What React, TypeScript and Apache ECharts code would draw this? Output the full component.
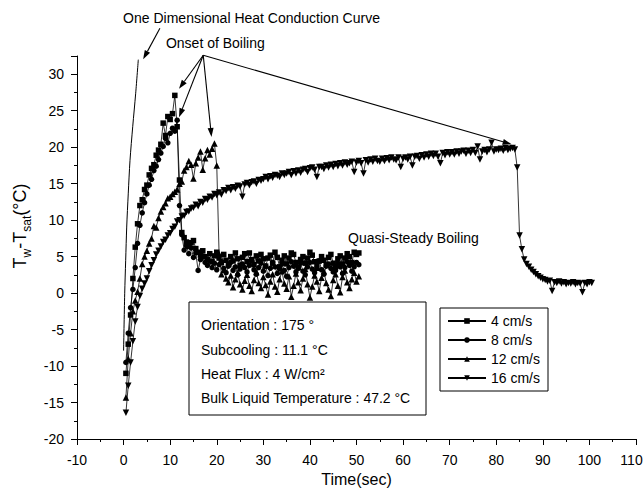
import React, { useEffect, useRef } from 'react';
import * as echarts from 'echarts';

const FONT = "'Liberation Sans', Arial, Helvetica, sans-serif";

// Sampling of the logged temperatures (s)
const T_START = 0.5;
const DT = 0.5;

const SERIES_NAMES = ['4 cm/s', '8 cm/s', '12 cm/s', '16 cm/s'];

// Tw - Tsat (°C), one value per sample
const v4 = [
  -11.0, -7.0, -3.0, 2.0, 6.3, 9.5, 12.0, 12.8, 14.2, 14.8, 16.2, 17.1, 17.6, 18.9, 19.6, 20.4, 23.3, 21.6, 24.2, 23.8, 24.6, 27.1, 22.8, 15.5,
  8.3, 7.6, 7.0, 6.4, 6.9, 7.2, 6.1, 5.6, 5.2, 5.8,
  5.0, 4.6, 5.4, 4.3, 5.1, 5.6, 4.8, 4.2, 5.3, 4.5,
  3.9, 5.0, 4.4, 5.5, 4.7, 3.8, 4.9, 5.4, 4.3, 5.5,
  4.6, 3.9, 5.1, 4.4, 5.3, 4.7, 3.7, 4.8, 5.2, 4.1,
  5.6, 4.9, 3.6, 4.5, 5.1, 4.0, 4.8, 5.5, 5.3, 4.2,
  3.5, 4.6, 5.0, 4.1, 4.8, 5.6, 5.2, 4.3, 3.4, 4.4,
  5.0, 4.5, 3.8, 4.9, 5.3, 4.1, 3.6, 4.7, 5.1, 4.0,
  4.8, 5.4, 5.0, 4.2, 5.6, 5.3, 5.5,
];

const v8 = [
  -9.5, -5.5, -2.0, 0.5, 3.5, 6.8, 9.3, 11.0, 12.4, 13.6, 14.8, 15.6, 16.8, 17.4, 18.3, 19.2, 20.1, 21.2, 20.6, 21.9, 22.6, 22.2, 23.7, 12.0, 8.0,
  5.9, 6.5, 5.4, 6.2, 4.9, 5.5, 3.1, 4.6, 5.0, 4.2,
  3.8, 4.4, 3.5, 4.1, 3.2, 3.9, 4.3, 3.4, 2.8, 3.7,
  4.2, 3.1, 3.6, 2.5, 3.3, 4.0, 3.5, 2.9, 3.8, 4.4,
  3.2, 2.6, 3.5, 4.1, 3.0, 3.7, 2.4, 3.4, 4.2, 3.6,
  2.7, 3.3, 4.0, 3.1, 2.3, 3.5, 4.3, 3.7, 2.9, 3.4,
  4.1, 3.0, 2.5, 3.6, 4.2, 3.3, 2.8, 3.9, 4.4, 3.2,
  2.6, 3.7, 4.0, 3.4, 2.9, 3.1, 4.1, 3.6, 2.7, 3.5,
  4.3, 3.8, 3.0, 3.6, 4.2, 3.9,
];

const v12 = [
  -14.3, -9.0, -5.5, -2.5, -1.0, 0.2, 2.0, 4.0, 5.0, 5.8,
  6.8, 7.5, 9.2, 9.0, 10.3, 11.2, 11.8, 12.3, 13.0, 13.2,
  13.6, 13.9, 14.2, 15.0, 15.3, 16.8, 17.3, 18.1, 17.6, 15.7,
  17.8, 18.6, 19.4, 16.9, 18.5, 19.6, 19.0, 19.8, 20.5, 17.5,
  5.4,
  2.6, 3.2, 2.0, 1.5, 2.4, 0.8, 1.9, 2.8, 1.2, 0.5,
  1.7, 2.5, 1.0, 0.3, 1.8, 2.9, 1.4, 0.7, 2.2, 1.1,
  -0.2, 1.6, 2.6, 0.9, 0.2, 1.9, 3.0, 1.3, 0.6, 2.3,
  -0.5, 1.0, 2.7, 1.5, 0.4, 2.0, 3.3, 1.2, -0.6, 0.9,
  2.4, 1.6, 0.3, 2.1, 3.0, 1.4, 0.5, -0.4, 1.8, 2.6,
  1.0, 0.1, 2.2, 3.1, 1.5, 0.7, 1.9, 2.8, 1.6, 2.3,
];

const v16 = [
  -16.4, -12.7, -9.5, -6.6, -3.9, -1.9, -0.4, 0.6, 1.3, 2.0,
  3.0, 3.8, 4.5, 5.3, 5.8, 6.4, 7.0, 7.3, 7.9, 8.2,
  8.8, 9.1, 9.8, 10.0, 10.5, 10.6, 11.1, 11.2, 11.6, 11.7,
  12.1, 11.9, 12.5, 12.4, 12.9, 12.8, 13.2, 13.1, 13.6, 13.4,
  13.8, 13.5, 14.1, 14.0, 14.4, 14.1, 14.5, 14.3, 14.7, 14.6, 13.2, 14.9, 15.1, 14.8, 15.2, 15.3, 15.0, 15.5, 15.4, 15.6,
  15.9, 15.6, 16.0, 15.8, 16.2, 16.1, 15.9, 16.4, 16.2, 16.4, 16.6, 16.2, 16.7, 16.4, 16.8, 16.5, 16.9, 17.0, 16.6, 17.1,
  17.2, 16.9, 15.9, 17.3, 17.3, 17.0, 17.5, 17.2, 17.6, 17.3, 17.7, 17.4, 17.8, 17.5, 17.9, 17.6, 17.8, 18.0, 16.6, 17.9,
  18.1, 17.8, 16.4, 18.2, 17.9, 18.3, 18.0, 18.4, 18.1, 18.0, 18.4, 18.1, 18.5, 18.2, 18.6, 18.3, 18.2, 18.6, 17.3, 18.4,
  18.6, 18.3, 18.7, 17.5, 18.7, 18.8, 18.4, 18.9, 18.6, 19.0, 18.7, 19.1, 18.8, 19.1, 18.7, 17.8, 19.2, 18.9, 19.3, 19.0,
  19.3, 19.0, 19.4, 19.1, 19.4, 19.5, 19.1, 19.5, 19.2, 19.6, 19.2, 20.1, 18.3, 19.4, 19.6, 19.3, 19.7, 20.6, 19.4, 19.7,
  19.6, 19.8, 19.5, 19.9, 19.6, 19.8, 19.9, 19.7,
  17.2, 7.9, 6.0, 4.6, 4.0, 3.6, 3.2, 2.9, 2.6, 2.3, 2.1, 1.9,
  1.8, 1.6, 1.7, 0.3, 1.5, 1.4, 1.6, 1.3, 1.5, 1.2, 1.4, 1.3, 1.5, 1.2, 1.4, 1.3, 0.1, 1.4, 1.2, 1.5, 1.4,
];

// One dimensional heat conduction curve [time, Tw-Tsat]
const conductionCurve = [
  [0.0, -7.9], [0.24, -0.1], [0.45, 4.5], [0.67, 9.05], [1.0, 13.6],
  [1.38, 18.2], [1.96, 22.8], [2.6, 27.4], [3.16, 32.0],
];

// Annotations, in data coordinates [time, Tw-Tsat]
const conductionLabel = { text: 'One Dimensional Heat Conduction Curve', at: [-0.1, 37.7] };
const conductionArrow = { from: [7.8, 36.3], to: [4.2, 32.05] };
const onsetLabel = { text: 'Onset of Boiling', at: [19.7, 34.3] };
const onsetOrigin = [17.1, 32.6];
const onsetTargets = [[11.9, 28.0], [11.9, 24.1], [18.87, 21.4], [83.3, 20.4]];
const quasiLabel = { text: 'Quasi-Steady Boiling', at: [48.2, 7.6] };

const conditionLines = [
  'Orientation : 175 °',
  'Subcooling : 11.1 °C',
  'Heat Flux : 4 W/cm²',
  'Bulk Liquid Temperature : 47.2 °C',
];

const toPairs = (vals: number[]) => vals.map((v, i) => [T_START + i * DT, v]);

const markerCfg = [
  { symbol: 'rect', size: 5.5, rotate: 0 },
  { symbol: 'circle', size: 5.5, rotate: 0 },
  { symbol: 'triangle', size: 6.5, rotate: 0 },
  { symbol: 'triangle', size: 6.5, rotate: 180 },
];

const seriesValues = [v4, v8, v12, v16];

const axisCommon = {
  axisLine: { show: true, onZero: false, lineStyle: { color: '#000', width: 1 } },
  axisTick: { show: true, inside: false, length: 6, lineStyle: { color: '#000', width: 1 } },
  minorTick: { show: true, splitNumber: 2, length: 3, lineStyle: { color: '#000', width: 1 } },
  splitLine: { show: false },
  minorSplitLine: { show: false },
};

export default function App() {
  const ref = useRef<HTMLDivElement>(null);

  useEffect(() => {
    const chart = echarts.init(ref.current as HTMLDivElement, null, { renderer: 'svg' });

    const option: any = {
      animation: false,
      backgroundColor: '#fff',
      grid: { left: 77, right: 8, top: 56, bottom: 52, containLabel: false, outerBoundsMode: 'none' },
      xAxis: {
        type: 'value',
        min: -10,
        max: 110,
        interval: 10,
        ...axisCommon,
        axisLabel: {
          color: '#000',
          fontSize: 14,
          fontFamily: FONT,
          margin: 14,
          formatter: (v: number) => (v === 110 ? '{edge|110}' : String(v)),
          rich: { edge: { fontSize: 14, fontFamily: FONT, color: '#000', padding: [0, 9, 0, 0] } },
        },
        name: 'Time(sec)',
        nameLocation: 'middle',
        nameGap: 31,
        nameTextStyle: { color: '#000', fontSize: 16, fontFamily: FONT },
      },
      yAxis: {
        type: 'value',
        min: -20,
        max: 32.5,
        interval: 5,
        ...axisCommon,
        axisLabel: {
          color: '#000',
          fontSize: 14,
          fontFamily: FONT,
          margin: 13,
          formatter: (v: number) => (Math.abs(v % 5) < 1e-9 ? String(v) : ''),
        },
      },
      legend: {
        data: SERIES_NAMES,
        orient: 'vertical',
        left: 440,
        top: 308,
        padding: [6, 8, 6, 7],
        itemGap: 5,
        itemWidth: 38,
        itemHeight: 7,
        borderColor: '#000',
        borderWidth: 1,
        backgroundColor: '#fff',
        textStyle: { color: '#000', fontSize: 14, fontFamily: FONT },
      },
      series: [
        ...seriesValues.map((vals, i) => ({
          name: SERIES_NAMES[i],
          type: 'line',
          data: toPairs(vals),
          symbol: markerCfg[i].symbol,
          symbolSize: markerCfg[i].size,
          symbolRotate: markerCfg[i].rotate,
          showSymbol: true,
          lineStyle: { color: '#000', width: 0.8 },
          itemStyle: { color: '#000' },
          emphasis: { disabled: true },
          z: 3 + i,
        })),
        {
          name: 'conduction',
          type: 'line',
          data: conductionCurve,
          symbol: 'none',
          smooth: 0.3,
          clip: false,
          lineStyle: { color: '#000', width: 1 },
          emphasis: { disabled: true },
        },
      ],
    };

    chart.setOption(option);

    const px = (p: number[]) => chart.convertToPixel({ gridIndex: 0 }, p) as number[];

    const arrow = (a: number[], b: number[]) => {
      const [x1, y1] = px(a);
      const [x2, y2] = px(b);
      const dx = x2 - x1;
      const dy = y2 - y1;
      const L = Math.hypot(dx, dy);
      const ux = dx / L;
      const uy = dy / L;
      const len = 9;
      const half = 3;
      const bx = x2 - ux * len;
      const by = y2 - uy * len;
      return [
        { type: 'line', silent: true, shape: { x1, y1, x2: bx, y2: by }, style: { stroke: '#000', lineWidth: 1.1 } },
        {
          type: 'polygon',
          silent: true,
          shape: { points: [[x2, y2], [bx - uy * half, by + ux * half], [bx + uy * half, by - ux * half]] },
          style: { fill: '#000' },
        },
      ];
    };

    const label = (text: string, at: number[], align: string) => {
      const [x, y] = px(at);
      return {
        type: 'text',
        silent: true,
        x,
        y,
        style: {
          text,
          fill: '#000',
          font: `14px ${FONT}`,
          align,
          verticalAlign: 'middle',
          textAlign: align,
          textVerticalAlign: 'middle',
        },
      };
    };

    const graphics: any[] = [];
    graphics.push(label(conductionLabel.text, conductionLabel.at, 'left'));
    graphics.push(...arrow(conductionArrow.from, conductionArrow.to));
    graphics.push(label(onsetLabel.text, onsetLabel.at, 'center'));
    onsetTargets.forEach((t) => graphics.push(...arrow(onsetOrigin, t)));
    graphics.push(label(quasiLabel.text, quasiLabel.at, 'left'));

    // Conditions box
    graphics.push({
      type: 'rect',
      silent: true,
      shape: { x: 189, y: 302, width: 237, height: 113 },
      style: { fill: '#fff', stroke: '#000', lineWidth: 1 },
      z: 10,
    });
    const lineYs = [325, 350, 374, 398];
    conditionLines.forEach((t, i) => {
      graphics.push({
        type: 'text',
        silent: true,
        x: 201,
        y: lineYs[i],
        z: 11,
        style: {
          text: t,
          fill: '#000',
          font: `14px ${FONT}`,
          align: 'left',
          verticalAlign: 'middle',
          textAlign: 'left',
          textVerticalAlign: 'middle',
        },
      });
    });

    // Y axis title with subscripts
    graphics.push({
      type: 'text',
      silent: true,
      x: 20,
      y: 226,
      rotation: Math.PI / 2,
      style: {
        text: '{n|T}{s|w}{n|-T}{s|sat}{n|(°C)}',
        align: 'center',
        verticalAlign: 'middle',
        textAlign: 'center',
        textVerticalAlign: 'middle',
        fill: '#000',
        rich: {
          n: { fontSize: 18, fontFamily: FONT, fill: '#000', lineHeight: 25, verticalAlign: 'middle' },
          s: { fontSize: 12, fontFamily: FONT, fill: '#000', lineHeight: 12, verticalAlign: 'bottom' },
        },
      },
    });

    chart.setOption({ graphic: graphics });

    return () => {
      chart.dispose();
    };
  }, []);

  return (
    <div
      ref={ref}
      style={{ position: 'fixed', left: 0, top: 0, width: 644, height: 491, background: '#fff' }}
    />
  );
}
